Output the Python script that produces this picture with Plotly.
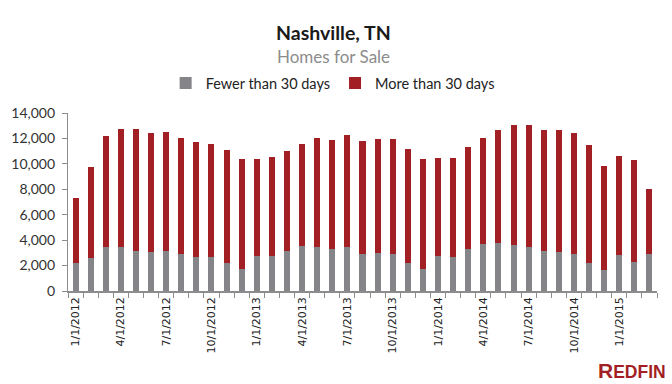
import plotly.graph_objects as go
import pandas as pd

months = pd.date_range("2012-01-01", "2015-03-01", freq="MS")
month_labels = [f"{d.month}/{d.day}/{d.year}" for d in months]

total = [7340, 9780, 12220, 12770, 12770, 12460, 12530, 12060, 11750, 11590, 11120, 10410,
         10410, 10570, 11040, 11590, 12060, 11900, 12300, 11830, 11980, 11980, 11200, 10410,
         10490, 10490, 11350, 12060, 12690, 13085, 13085, 12690, 12690, 12460, 11510, 9860,
         10645, 10330, 8050]
fewer = [2170, 2620, 3430, 3430, 3170, 3090, 3170, 2935, 2700, 2700, 2230, 1760,
         2780, 2780, 3170, 3565, 3485, 3330, 3485, 2935, 3015, 2935, 2230, 1760,
         2780, 2700, 3330, 3720, 3800, 3640, 3485, 3170, 3090, 2935, 2230, 1680,
         2860, 2305, 2935]
more = [t - f for t, f in zip(total, fewer)]

tick_labels = ["1/1/2012", "4/1/2012", "7/1/2012", "10/1/2012", "1/1/2013", "4/1/2013",
               "7/1/2013", "10/1/2013", "1/1/2014", "4/1/2014", "7/1/2014", "10/1/2014",
               "1/1/2015"]
y_ticks = [0, 2000, 4000, 6000, 8000, 10000, 12000, 14000]

x = list(range(len(months)))
tick_pos = [month_labels.index(t) for t in tick_labels]

GRAY = "#858589"
RED = "#a21f24"

W, H = 672, 384
ML, MR, MT, MB = 68, 15, 113, 93
PW, PH = W - ML - MR, H - MT - MB


def px_to_paper(xp, yp):
    return (xp - ML) / PW, (H - MB - yp) / PH


fig = go.Figure()
fig.add_trace(go.Bar(x=x, y=fewer, name="Fewer than 30 days", marker_color=GRAY,
                     marker_line_width=0))
fig.add_trace(go.Bar(x=x, y=more, name="More than 30 days", marker_color=RED,
                     marker_line_width=0))

fig.update_layout(
    width=W, height=H,
    barmode="stack", bargap=0.6,
    plot_bgcolor="white", paper_bgcolor="white",
    margin=dict(l=ML, r=MR, t=MT, b=MB, autoexpand=False),
    font=dict(family="Lato", color="#333333"),
    showlegend=True,
    legend=dict(orientation="h", x=0.495, xref="container", xanchor="center",
                y=1 - 83 / H, yref="container", yanchor="middle",
                font=dict(family="Lato", size=14.5, color="#222222"),
                traceorder="normal"),
)
tx, ty = px_to_paper(333, 32)
fig.add_annotation(text="<b>Nashville, TN</b>", xref="paper", yref="paper",
                   x=tx, y=ty, xanchor="center", yanchor="middle",
                   showarrow=False, font=dict(family="Lato", size=19.5, color="#1a1a1a"))
sx, sy = px_to_paper(333, 57)
fig.add_annotation(text="Homes for Sale", xref="paper", yref="paper",
                   x=sx, y=sy, xanchor="center", yanchor="middle",
                   showarrow=False, font=dict(family="Lato", size=17, color="#8c8c8c"))
lx, ly = px_to_paper(667, 383)
fig.add_annotation(text="<span style='font-size:21px'>R</span>EDFIN",
                   xref="paper", yref="paper", x=lx, y=ly,
                   xanchor="right", yanchor="bottom", showarrow=False, borderpad=0,
                   font=dict(family="Liberation Sans", size=17.5, color=RED, weight="bold"))

fig.update_xaxes(
    range=[-0.5, len(x) - 0.5], automargin=False,
    tickmode="array", tickvals=tick_pos, ticktext=tick_labels, tickangle=-90,
    ticks="", ticklen=0,
    tickfont=dict(family="DejaVu Sans", size=11, color="#222222"),
    showline=True, linecolor="#8c8c8c", linewidth=1.5,
    showgrid=False, zeroline=False,
    minor=dict(tick0=-0.5, dtick=1, ticks="outside", ticklen=5, tickcolor="#8c8c8c",
               tickwidth=1.2, showgrid=False),
)
fig.update_yaxes(
    range=[0, 14000], automargin=False, tickmode="array", tickvals=y_ticks,
    tickformat=",d", ticks="outside", ticklen=5, tickcolor="#8c8c8c",
    tickfont=dict(family="Lato", size=14, color="#333333"), ticklabelstandoff=4,
    showline=True, linecolor="#8c8c8c", linewidth=1.2,
    showgrid=False, zeroline=False,
)

fig.write_html("out.html", config={"displayModeBar": False},
               post_script="document.body.style.margin='0';")
